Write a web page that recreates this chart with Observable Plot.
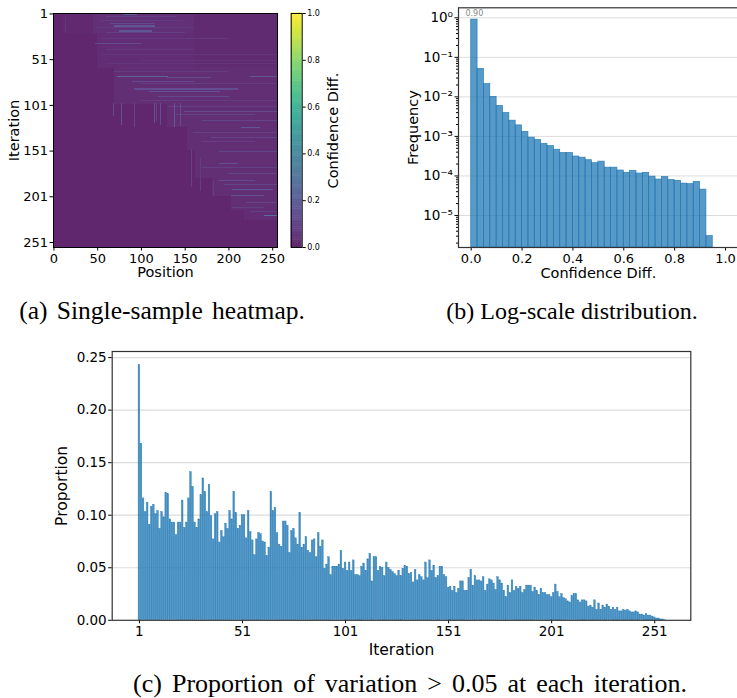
<!DOCTYPE html>
<html><head><meta charset="utf-8">
<script src="https://cdn.jsdelivr.net/npm/d3@7"></script>
<script src="https://cdn.jsdelivr.net/npm/@observablehq/plot@0.6"></script>
<style>
body{margin:0;background:#fff;}
#page{position:relative;width:737px;height:698px;overflow:hidden;background:#fff;font-family:"DejaVu Sans";}
.panel{position:absolute;}
.panel svg{overflow:visible;max-width:none !important;}
.cap{position:absolute;font-family:"Liberation Serif","Times New Roman",serif;line-height:26px;color:#000;white-space:nowrap;transform:translateX(-50%);}
</style></head>
<body>
<div id="page">
  <div class="panel" id="heat" style="left:0;top:0;width:280px"></div>
  <div class="panel" id="cbar" style="left:280px;top:0;width:70px"></div>
  <div class="panel" id="hist" style="left:390px;top:0;width:360px"></div>
  <div class="panel" id="prop" style="left:0;top:340px;width:737px"></div>
  <div class="cap" style="left:162px;top:298px;font-size:25.5px;word-spacing:3px">(a) Single-sample heatmap.</div>
  <div class="cap" style="left:572px;top:298px;font-size:24px">(b) Log-scale distribution.</div>
  <div class="cap" style="left:410px;top:671px;font-size:26px;word-spacing:3.5px">(c) Proportion of variation &gt; 0.05 at each iteration.</div>
</div>
<script>
// ---------- (a) heatmap data: [rowStart,rowEnd,posStart,posEnd,value] ----------
const heatNoise = [
  [1,23,10,45,0.01],[1,23,46,160,0.028],[1,60,161,255,0.012],[23,60,50,160,0.02],
  [60,100,70,255,0.024],[100,125,130,255,0.024],[125,150,153,255,0.024],
  [150,180,162,255,0.024],[180,200,182,255,0.024],[200,215,203,255,0.024],[215,226,218,255,0.02]
];
const heatStreaks = [
  [2,2,80,95,0.22],[4,4,60,140,0.08],[6,6,70,110,0.13],[9,9,55,150,0.07],[12,12,65,115,0.12],
  [14,15,70,115,0.16],[16,16,50,160,0.07],[18,18,65,110,0.14],[20,21,75,112,0.17],[22,22,60,150,0.08],
  [28,28,55,200,0.06],[34,34,48,100,0.12],[40,40,60,160,0.06],[46,46,55,255,0.05],[52,52,100,255,0.05],
  [56,56,60,255,0.05],[64,64,70,200,0.07],[70,70,73,130,0.22],[71,71,130,180,0.13],[70,70,225,255,0.16],
  [75,75,90,160,0.12],[78,78,100,255,0.07],[83,84,92,210,0.13],[86,86,110,190,0.15],[88,88,80,255,0.07],
  [92,92,120,200,0.12],[96,96,100,255,0.07],[99,99,168,255,0.15],[103,103,130,255,0.08],[108,108,150,255,0.12],
  [112,112,140,230,0.09],[118,118,170,255,0.1],[126,126,215,235,0.17],[131,131,160,255,0.08],
  [137,137,180,255,0.1],[141,141,170,230,0.08],[146,146,214,237,0.22],[152,152,190,255,0.1],
  [158,158,200,255,0.08],[165,165,190,210,0.15],[170,170,170,255,0.08],[176,176,200,255,0.1],
  [184,184,190,230,0.12],[188,188,195,255,0.1],[193,193,199,255,0.24],[194,194,205,250,0.17],
  [200,200,203,240,0.15],[204,204,210,255,0.1],[208,208,220,255,0.1],[213,213,205,240,0.08],
  [218,218,225,255,0.08],[222,222,241,255,0.26]
];
const heatDrips = [
  [100,113,69,69,0.12],[100,122,78,78,0.15],[100,125,93,93,0.1],[100,128,100,100,0.17],
  [100,120,115,115,0.15],[100,118,118,118,0.1],[100,122,122,122,0.13],[100,125,138,138,0.17],
  [100,124,145,145,0.13],[150,190,158,158,0.08],[160,195,168,168,0.07],[185,200,183,183,0.08],
  [3,20,12,12,0.07],[5,22,14,14,0.05]
];
const heatTicks = [0,50,100,150,200,250];
const cbarTicks = [0,0.2,0.4,0.6,0.8,1.0];

// ---------- (b) histogram data ----------
const binStart = [0.000,0.025,0.050,0.075,0.100,0.125,0.150,0.175,0.200,0.225,0.250,0.275,0.300,0.325,0.350,0.375,0.400,0.425,0.450,0.475,0.500,0.525,0.550,0.575,0.600,0.625,0.650,0.675,0.700,0.725,0.750,0.775,0.800,0.825,0.850,0.875,0.900,0.925];
const binFreq = [0.90,0.051,0.021,0.0100,0.0059,0.0039,0.0025,0.0019,0.0013,0.00093,0.00081,0.00065,0.00057,0.00046,0.00038,0.00038,0.00031,0.00029,0.00025,0.00021,0.00023,0.000162,0.000162,0.000137,0.00012,0.000134,0.000115,0.00012,0.000096,0.000081,0.000094,0.000079,0.000075,0.000064,0.000062,0.000071,0.000045,0.0000030];
const histXTicks = [0,0.2,0.4,0.6,0.8,1.0];
const histYTicks = [1,1e-1,1e-2,1e-3,1e-4,1e-5];

// ---------- (c) proportion per iteration ----------
const proportion = [
0.243,0.168,0.116,0.103,0.112,0.091,0.108,0.110,0.101,0.104,
0.087,0.103,0.098,0.121,0.120,0.096,0.093,0.093,0.081,0.093,
0.093,0.114,0.088,0.093,0.116,0.141,0.127,0.093,0.088,0.096,
0.119,0.135,0.122,0.103,0.129,0.099,0.077,0.101,0.103,0.074,
0.085,0.079,0.092,0.087,0.104,0.096,0.122,0.102,0.087,0.090,
0.100,0.100,0.078,0.104,0.084,0.076,0.062,0.077,0.083,0.082,
0.075,0.074,0.061,0.069,0.122,0.104,0.107,0.083,0.072,0.070,
0.094,0.094,0.090,0.064,0.085,0.087,0.078,0.072,0.102,0.069,
0.072,0.079,0.066,0.064,0.076,0.077,0.060,0.083,0.070,0.076,
0.049,0.053,0.060,0.043,0.051,0.051,0.051,0.053,0.066,0.049,
0.055,0.047,0.055,0.047,0.057,0.043,0.043,0.042,0.051,0.054,
0.047,0.058,0.063,0.037,0.060,0.060,0.047,0.051,0.050,0.042,
0.055,0.050,0.048,0.046,0.044,0.042,0.047,0.042,0.049,0.052,
0.051,0.044,0.045,0.036,0.048,0.038,0.043,0.041,0.038,0.055,
0.040,0.057,0.047,0.052,0.040,0.042,0.051,0.051,0.043,0.041,
0.031,0.032,0.028,0.032,0.026,0.030,0.037,0.037,0.028,0.028,
0.040,0.048,0.033,0.042,0.038,0.038,0.037,0.041,0.028,0.034,
0.039,0.038,0.035,0.029,0.041,0.038,0.035,0.028,0.022,0.033,
0.026,0.038,0.028,0.032,0.030,0.032,0.026,0.029,0.033,0.033,
0.033,0.027,0.031,0.028,0.024,0.030,0.026,0.026,0.024,0.024,
0.022,0.026,0.034,0.027,0.022,0.025,0.021,0.020,0.018,0.017,
0.023,0.025,0.025,0.019,0.017,0.019,0.019,0.018,0.013,0.014,
0.012,0.019,0.010,0.016,0.010,0.014,0.012,0.015,0.013,0.010,
0.012,0.010,0.012,0.0085,0.0085,0.010,0.009,0.010,0.0085,0.0075,
0.0075,0.0085,0.0075,0.0055,0.0055,0.0045,0.006,0.0045,0.0045,0.0035,
0.0027,0.0017,0.0017,0.0008,0.0008,0.0003
];
const iterations = proportion.map((_, i) => i + 1);
const propXTicks = [1,51,101,151,201,251];
const propYTicks = [0,0.05,0.10,0.15,0.20,0.25];

// ---------- helpers ----------
const faded = t => d3.interpolateRgb(d3.interpolateViridis(t), "#ffffff")(0.15);
const font = {fontFamily: "DejaVu Sans", color: "#000", background: "transparent", overflow: "visible", maxWidth: "none"};
const lbl = {textAnchor: "middle", lineAnchor: "middle"};
const toRect = a => ({r1: a[0], r2: a[1], p1: a[2], p2: a[3], v: a[4]});
const heatCells = [
  {r1: 1, r2: 256, p1: 0, p2: 255, v: 0},
  ...heatNoise.map(toRect), ...heatStreaks.map(toRect), ...heatDrips.map(toRect)
];

// ---------- (a) heatmap ----------
const heat = Plot.plot({
  width: 280, height: 290,
  marginLeft: 53, marginRight: 3, marginTop: 13, marginBottom: 43,
  style: {...font, fontSize: "13px"},
  x: {domain: [-0.5, 255.5]},
  y: {domain: [-0.5, 255.5], reverse: true},
  color: {type: "linear", domain: [0, 1], interpolate: faded},
  marks: [
    Plot.rect(heatCells, {x1: d => d.p1 - 0.5, x2: d => d.p2 + 0.5, y1: d => d.r1 - 1.5, y2: d => d.r2 - 0.5, fill: d => d.v, shapeRendering: "crispEdges"}),
    Plot.axisX({ticks: heatTicks, tickSize: 3.5, tickPadding: 2.5, label: null, fontSize: 13}),
    Plot.axisY({ticks: heatTicks, tickFormat: d => String(d + 1), tickSize: 3.5, tickPadding: 2, label: null, fontSize: 13}),
    Plot.text(["Position"], {...lbl, frameAnchor: "bottom", dy: 25, fontSize: 14.5}),
    Plot.text(["Iteration"], {...lbl, frameAnchor: "left", dx: -39, rotate: -90, fontSize: 14.5}),
    Plot.frame({stroke: "#000", strokeWidth: 1})
  ]
});
document.getElementById("heat").appendChild(heat);

// ---------- colorbar ----------
const cbarSteps = d3.range(0, 1, 1 / 128);
const cbar = Plot.plot({
  width: 70, height: 290,
  marginLeft: 10.7, marginRight: 48.3, marginTop: 13, marginBottom: 43,
  style: {...font, fontSize: "8px"},
  x: {domain: [0, 1], axis: null},
  y: {domain: [0, 1]},
  color: {type: "linear", domain: [0, 1], interpolate: faded},
  marks: [
    Plot.rect(cbarSteps, {x1: 0, x2: 1, y1: d => d, y2: d => d + 1 / 128 + 0.002, fill: d => d}),
    Plot.axisY({anchor: "right", ticks: cbarTicks, tickFormat: d3.format(".1f"), tickSize: 3, tickPadding: 2, label: null, fontSize: 8}),
    Plot.text(["Confidence Diff."], {...lbl, frameAnchor: "right", dx: 31, rotate: -90, fontSize: 14.5}),
    Plot.frame({stroke: "#000", strokeWidth: 1})
  ]
});
document.getElementById("cbar").appendChild(cbar);

// ---------- (b) histogram ----------
const histRows = binStart.map((b, i) => ({x1: b, x2: b + 0.025, f: binFreq[i]}));
const yMin = Math.pow(10, -5.81), yMax = Math.pow(10, 0.253);
const sup = {"0":"⁰","1":"¹","2":"²","3":"³","4":"⁴","5":"⁵","6":"⁶","7":"⁷","8":"⁸","9":"⁹","-":"⁻"};
const logFmt = d => "10" + String(Math.round(Math.log10(d))).split("").map(c => sup[c]).join("");
const minorTicks = [];
for (let k = -6; k <= 0; k++) for (let m = 2; m <= 9; m++) { const v = m * Math.pow(10, k); if (v > yMin && v < yMax) minorTicks.push(v); }
const hist = Plot.plot({
  width: 360, height: 290,
  marginLeft: 68, marginRight: 12.3, marginTop: 7.3, marginBottom: 43,
  style: {...font, fontSize: "13px"},
  x: {domain: [-0.05, 1.05]},
  y: {type: "log", domain: [yMin, yMax]},
  marks: [
    Plot.ruleY(histYTicks, {stroke: "#dddddd", strokeWidth: 1}),
    Plot.rect(histRows, {x1: "x1", x2: "x2", y1: yMin, y2: "f", fill: "#1f77b4", fillOpacity: 0.75, stroke: "#1f77b4", strokeWidth: 0.7, strokeOpacity: 0.9}),
    Plot.text(histRows.slice(0, 1), {x: d => (d.x1 + d.x2) / 2, y: "f", text: d => d.f.toFixed(2), dy: -6, fontSize: 8, fill: "#888"}),
    Plot.axisY({ticks: minorTicks, tickFormat: () => "", tickSize: 2, label: null}),
    Plot.axisY({ticks: histYTicks, tickFormat: logFmt, tickSize: 3.5, tickPadding: 2, label: null, fontSize: 13.5}),
    Plot.axisX({ticks: histXTicks, tickFormat: d3.format(".1f"), tickSize: 3.5, tickPadding: 2.5, label: null, fontSize: 13}),
    Plot.text(["Confidence Diff."], {...lbl, frameAnchor: "bottom", dy: 26, fontSize: 14.5}),
    Plot.text(["Frequency"], {...lbl, frameAnchor: "left", dx: -45, rotate: -90, fontSize: 14.5}),
    Plot.frame({stroke: "#333", strokeWidth: 1.2})
  ]
});
document.getElementById("hist").appendChild(hist);

// ---------- (c) proportion ----------
const propRows = iterations.map((it, i) => ({it, p: proportion[i]}));
const prop = Plot.plot({
  width: 737, height: 358,
  marginLeft: 111.7, marginRight: 46.7, marginTop: 11, marginBottom: 78.2,
  style: {...font, fontSize: "13.5px"},
  x: {domain: [-12.2, 268.5]},
  y: {domain: [0, 0.2558]},
  marks: [
    Plot.ruleY(propYTicks.slice(1), {stroke: "#dcdcdc", strokeWidth: 1.2}),
    Plot.rectY(propRows, {x1: d => d.it - 0.4, x2: d => d.it + 0.4, y: "p", fill: "#1f77b4", fillOpacity: 0.82, stroke: "#1f77b4", strokeWidth: 0.4, strokeOpacity: 0.9}),
    Plot.axisX({ticks: propXTicks, tickSize: 3.5, tickPadding: 3, label: null, fontSize: 13.5}),
    Plot.axisY({ticks: propYTicks, tickFormat: d3.format(".2f"), tickSize: 3.5, tickPadding: 2, label: null, fontSize: 13.5}),
    Plot.text(["Iteration"], {...lbl, frameAnchor: "bottom", dy: 30, fontSize: 15.5}),
    Plot.text(["Proportion"], {...lbl, frameAnchor: "left", dx: -50, rotate: -90, fontSize: 15.5}),
    Plot.frame({stroke: "#333", strokeWidth: 1.2})
  ]
});
document.getElementById("prop").appendChild(prop);
</script>
</body></html>
